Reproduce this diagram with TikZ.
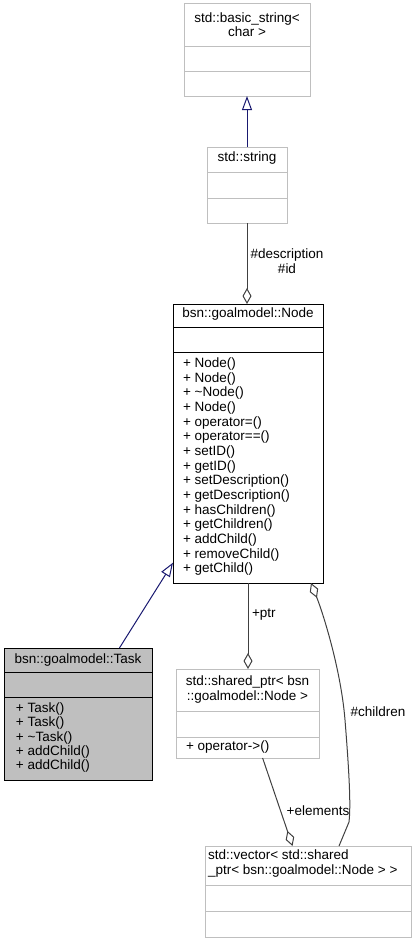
\documentclass[tikz,border=0pt]{standalone}
\usepackage{fontspec}
\setmainfont{Liberation Sans}
\usetikzlibrary{arrows.meta,calc}
\definecolor{boxgray}{HTML}{BFBFBF}
\definecolor{edgegray}{HTML}{404040}
\definecolor{inhblue}{HTML}{191970}
\begin{document}
\begin{tikzpicture}[x=1pt,y=-1pt,
  font=\fontsize{13.5}{14.6}\selectfont,
  classbox/.style={rectangle, draw=boxgray, fill=white, line width=1pt, inner sep=0pt, outer sep=0pt, anchor=north west},
  mainbox/.style={classbox, draw=black},
  taskbox/.style={classbox, draw=black, fill=boxgray},
  txt/.style={inner sep=0pt, outer sep=0pt, anchor=mid},
  txtl/.style={inner sep=0pt, outer sep=0pt, anchor=mid west},
  divg/.style={draw=boxgray, line width=1pt},
  divb/.style={draw=black, line width=1pt},
  inherit/.style={draw=inhblue, line width=1pt, -{Triangle[open, fill=white, length=14pt, width=10pt]}},
  assoc/.style={draw=edgegray, line width=1pt},
  agg/.style={assoc, -{Diamond[open, fill=white, length=16pt, width=9pt]}}
]
\useasboundingbox (0,0) rectangle (417,943);

% std::basic_string< char >
\node[classbox, minimum width=126pt, minimum height=93pt] (bs) at (184,3) {};
\node[txt] (bs1) at (247,20) {std::basic\_string<};
\node[txt] (bs2) at (247,34) {char >};
\draw[divg] (184,46) -- (310,46) (184,71) -- (310,71);

% std::string
\node[classbox, minimum width=80pt, minimum height=76pt] (str) at (207,147) {};
\node[txt] (str1) at (247,159) {std::string};
\draw[divg] (207,172) -- (287,172) (207,198) -- (287,198);

% bsn::goalmodel::Node
\node[mainbox, minimum width=150pt, minimum height=279pt] (node) at (173,304) {};
\node[txt] (node1) at (248,315) {bsn::goalmodel::Node};
\draw[divb] (173,327) -- (323,327) (173,352) -- (323,352);
\foreach \m [count=\i from 0] in {Node(),Node(),\textasciitilde Node(),Node(),operator=(),operator==(),setID(),getID(),setDescription(),getDescription(),hasChildren(),getChildren(),addChild(),removeChild(),getChild()}
  \node[txtl] (nm\i) at (183,{365+14.65*\i}) {+ \m};

% bsn::goalmodel::Task
\node[taskbox, minimum width=148pt, minimum height=132pt] (task) at (4,648) {};
\node[txt] (task1) at (78,661) {bsn::goalmodel::Task};
\draw[divb] (4,672) -- (152,672) (4,697) -- (152,697);
\foreach \m [count=\i from 0] in {Task(),Task(),\textasciitilde Task(),addChild(),addChild()}
  \node[txtl] (tm\i) at (16,{710+14.3*\i}) {+ \m};

% std::shared_ptr< bsn::goalmodel::Node >
\node[classbox, minimum width=143pt, minimum height=89pt] (sp) at (176,669) {};
\node[txt] (sp1) at (247.5,683) {std::shared\_ptr< bsn};
\node[txt] (sp2) at (247.5,698) {::goalmodel::Node >};
\draw[divg] (176,711) -- (319,711) (176,737) -- (319,737);
\node[txtl] (spm) at (186,748) {+ operator->()};

% std::vector< std::shared_ptr< bsn::goalmodel::Node > >
\node[classbox, minimum width=206pt, minimum height=91pt] (vec) at (205,846) {};
\node[txtl] (vec1) at (208,857) {std::vector< std::shared};
\node[txtl] (vec2) at (208,872) {\_ptr< bsn::goalmodel::Node > >};
\draw[divg] (205,885) -- (411,885) (205,911) -- (411,911);

% inheritance
\draw[inherit] (str.north) -- (bs.south);
\draw[inherit] (task) -- (node);

% associations
\draw[agg] (str.south) -- (str.south |- node.north);
\node[align=center, inner sep=0pt] (ldesc) at (287,261) {\#description\\\#id};

\draw[agg] (node.south) -- (node.south |- sp.north);
\node[txtl] (lptr) at (252,615) {+ptr};

\draw[agg] (sp) -- (vec);
\node[txt] (lel) at (318,813) {+elements};

\coordinate (chS) at ($(node.south east)+(-12,0)$);
\coordinate (chE) at ($(vec.north)+(31,0)$);
\draw[assoc, {Diamond[open, fill=white, length=16pt, width=9pt]}-] (chS) .. controls (323,613) and (341,670) .. (345,720) .. controls (349,770) and (351,805) .. (349,822) -- (chE);
\node[txt] (lch) at (378,714) {\#children};
\end{tikzpicture}
\end{document}
